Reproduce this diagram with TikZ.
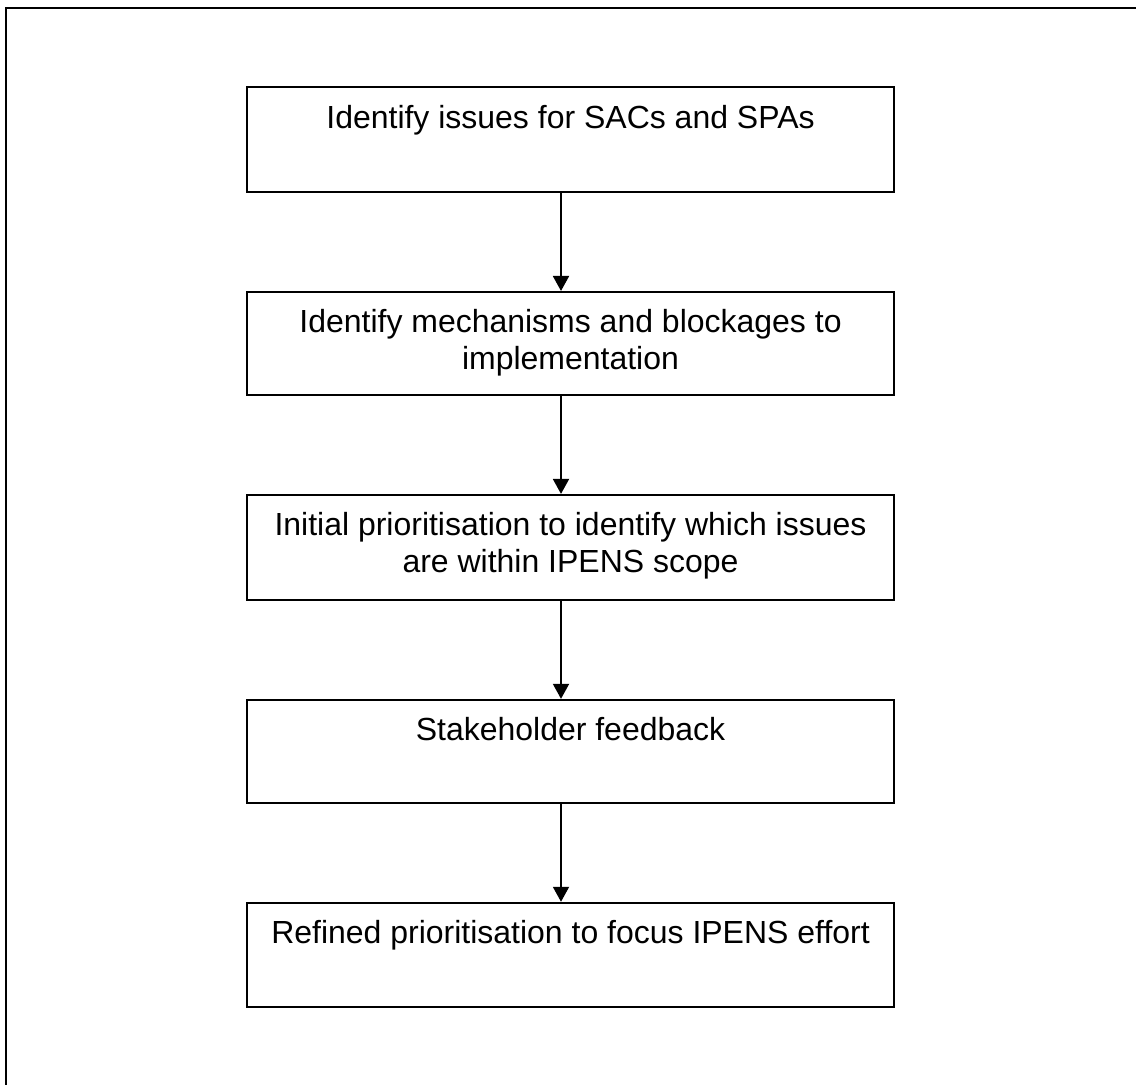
\documentclass[tikz,border=0pt]{standalone}
\usepackage{fontspec}
\setmainfont{Liberation Sans}
\usetikzlibrary{positioning,arrows.meta}
\begin{document}
\begin{tikzpicture}[
	stepbox/.style={draw, line width=1.1pt, inner sep=0pt, minimum width=12.94cm,
		font=\fontsize{18.2}{20.9}\selectfont},
	flow/.style={line width=1.1pt, -{Triangle[length=0.3cm,width=0.32cm]}},
	node distance=1.96cm]
	\useasboundingbox (0,0) rectangle (22.72,-21.68);
	% open frame (left and top only)
	\draw [line width=1.1pt] (0.12,-21.8) -- (0.12,-0.16) -- (22.9,-0.16);
	\node [stepbox] (issues) at (11.41,-2.79)
		{\parbox[t][2.1cm][t]{12.7cm}{\centering\rule{0pt}{0.82cm}Identify issues for SACs and SPAs}};
	\node [stepbox, below=of issues] (mech)
		{\parbox[t][2.06cm][t]{12.7cm}{\centering\rule{0pt}{0.82cm}Identify mechanisms and blockages to\\implementation}};
	\node [stepbox, below=of mech] (initial)
		{\parbox[t][2.1cm][t]{12.7cm}{\centering\rule{0pt}{0.82cm}Initial prioritisation to identify which issues\\are within IPENS scope}};
	\node [stepbox, below=of initial] (feedback)
		{\parbox[t][2.06cm][t]{12.7cm}{\centering\rule{0pt}{0.82cm}Stakeholder feedback}};
	\node [stepbox, below=of feedback] (refined)
		{\parbox[t][2.08cm][t]{12.7cm}{\centering\rule{0pt}{0.82cm}Refined prioritisation to focus IPENS effort}};
	% arrows sit a little left of the box centres
	\foreach \a/\b in {issues/mech, mech/initial, initial/feedback, feedback/refined}
		\draw [flow] ([xshift=-0.19cm]\a.south) -- ([xshift=-0.19cm]\b.north);
\end{tikzpicture}
\end{document}
